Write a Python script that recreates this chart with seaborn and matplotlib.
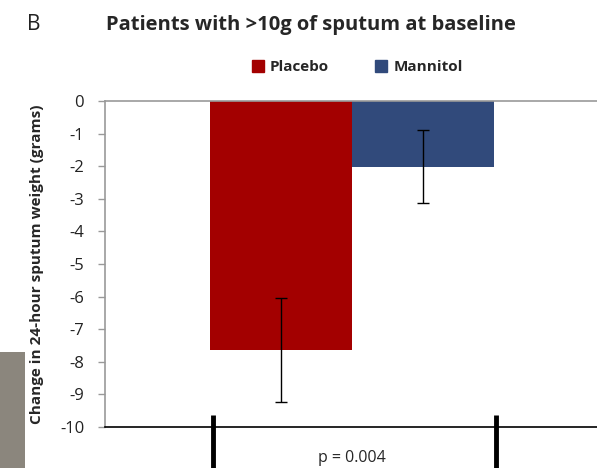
import matplotlib

matplotlib.use("Agg")
import matplotlib.pyplot as plt
import pandas as pd
import seaborn as sns
from matplotlib.patches import Rectangle

# values
treatments = ["Placebo", "Mannitol"]
change_g = [-7.64, -2.02]
err_g = [1.60, 1.12]
colors = ["#a30000", "#314a7b"]
yticks = list(range(0, -11, -1))
title = "Patients with >10g of sputum at baseline"
ylabel = "Change in 24-hour sputum weight (grams)"
p_text = "p = 0.004"

df = pd.DataFrame({"group": ["all"] * 2, "treatment": treatments, "change": change_g})

sns.set_theme(style="white")
plt.rcParams["font.family"] = ["Open Sans", "DejaVu Sans"]

fig = plt.figure(figsize=(5.97, 4.68), dpi=100)

# grey strip at the lower left, kept behind everything
fig.patches.append(Rectangle((0, 0), 25 / 597, 116 / 468, transform=fig.transFigure,
                             facecolor="#8b867d", edgecolor="none", zorder=-5))

ax = fig.add_axes([0.176, 0.0876, 0.824, 0.6966])
ax.patch.set_alpha(0)

sns.barplot(
    data=df, x="group", y="change", hue="treatment", hue_order=treatments,
    palette=colors, errorbar=None, width=0.8, saturation=1, linewidth=0,
    ax=ax, legend=False,
)

# error bars at bar centres
for bar, err in zip(ax.patches, err_g):
    cx = bar.get_x() + bar.get_width() / 2
    ax.errorbar(cx, bar.get_height(), yerr=err, fmt="none", ecolor="black",
                elinewidth=1, capsize=4, capthick=1)

ax.set_xlim(-0.696, 0.69)
ax.set_ylim(-10, 0)
ax.set_yticks(yticks)
ax.set_yticklabels([str(t) for t in yticks], fontsize=12, color="#222222")
ax.tick_params(axis="y", left=True, length=5, width=1, color="#999999", pad=10)
ax.set_xticks([])
ax.set_xlabel("")
ax.set_ylabel(ylabel, fontsize=11, fontweight="bold")
ax.yaxis.set_label_coords(-0.125, 0.5)

ax.spines["right"].set_visible(False)
ax.spines["left"].set_color("#999999")
ax.spines["top"].set_color("#999999")
ax.spines["bottom"].set_color("black")
for s in ["left", "top", "bottom"]:
    ax.spines[s].set_linewidth(1.2)

# thick separator lines and p-value below the axis
for xb in [-0.392, 0.406]:
    ax.plot([xb, xb], [-9.63, -11.3], color="black", lw=3.5, clip_on=False,
            solid_capstyle="butt")
ax.text(0.0, -10.95, p_text, ha="center", va="center", fontsize=11.5)

# legend
handles = [Rectangle((0, 0), 1, 1, color=c) for c in colors]
fig.legend(handles, treatments, loc="center", bbox_to_anchor=(0.598, 0.857),
           ncol=2, frameon=False, handlelength=0.8, handleheight=0.8,
           handletextpad=0.4, columnspacing=3.0,
           prop={"weight": "bold", "size": 11})

fig.text(0.52, 0.947, title, ha="center", va="center", fontsize=14.5, fontweight="bold")
fig.text(0.057, 0.947, "B", ha="center", va="center", fontsize=15, color="#222222")

fig.savefig("out.png", dpi=100)
